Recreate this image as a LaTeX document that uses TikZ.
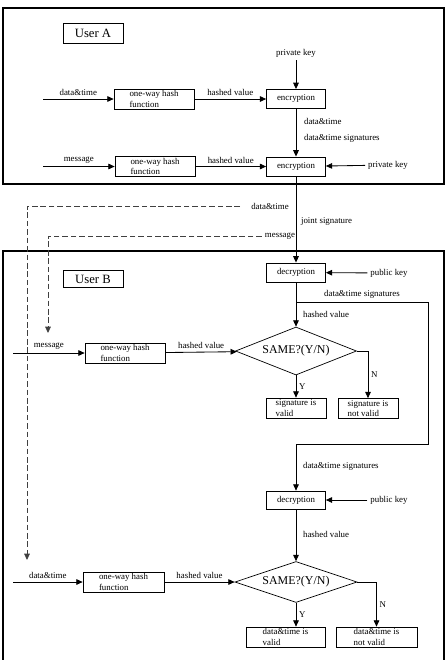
\documentclass[tikz,border=0pt]{standalone}
\usepackage{fontspec}
\setmainfont{Liberation Serif}
\usetikzlibrary{shapes.geometric,arrows.meta}

\newcommand{\smalltxt}{\fontsize{6.3}{7.4}\selectfont}

\tikzset{
	frame/.style={draw, line width=1.2pt},
	userbox/.style={draw, line width=0.5pt, minimum width=1.5cm, minimum height=0.5cm, inner sep=0pt, font=\fontsize{9}{10}\selectfont},
	hashbox/.style={draw, line width=0.5pt, minimum width=2cm, minimum height=0.5cm, inner sep=0pt, align=left, font=\smalltxt},
	cryptbox/.style={draw, line width=0.5pt, minimum width=1.475cm, minimum height=0.48cm, inner sep=0pt, font=\smalltxt},
	resbox/.style={draw, line width=0.5pt, minimum width=1.5cm, minimum height=0.5cm, inner sep=0pt, align=left, font=\smalltxt},
	same/.style={draw, shape=diamond, line width=0.5pt, aspect=2.5, inner sep=0pt, minimum width=3.025cm, minimum height=1.2cm, font=\fontsize{8.5}{10}\selectfont},
	lbl/.style={font=\smalltxt, inner sep=2pt},
	arr/.style={-{Triangle[length=4.5pt,width=4pt]}, line width=0.6pt},
	dashline/.style={arr, dash pattern=on 4pt off 2pt, color=black!75}
}

\begin{document}
\begin{tikzpicture}[x=0.025cm, y=-0.025cm]
	\useasboundingbox (0,0) rectangle (448,660);

	% the two users
	\draw[frame] (3,8) rectangle (444,184);
	\draw[frame] (3,660) -- (3,251) -- (444,251) -- (444,660);

	% User A
	\node[userbox] (userA) at (93,33) {User A};
	\node[hashbox] (hashA1) at (154,99) {one-way hash\\function};
	\node[cryptbox] (encA1) at (296,99) {encryption};
	\node[hashbox] (hashA2) at (155,166.5) {one-way hash\\function};
	\node[cryptbox] (encA2) at (296,166.5) {encryption};
	\node[lbl] (privA1) at (296,53) {private key};
	\node[lbl] (privA2) at (388,165) {private key};
	\node[lbl, anchor=west] (dtA) at (301,121) {data\&time};
	\node[lbl, anchor=west] (dtsigA) at (301,138) {data\&time signatures};
	\coordinate (inA1) at (43,99);
	\coordinate (inA2) at (43,166.5);

	\draw[arr] (inA1) -- node[lbl, above] {data\&time} (hashA1);
	\draw[arr] (hashA1) -- node[lbl, above] {hashed value} (encA1);
	\draw[arr] (privA1) -- (encA1);
	\draw[arr] (encA1) -- (encA2);
	\draw[arr] (inA2) -- node[lbl, above] {message} (hashA2);
	\draw[arr] (hashA2) -- node[lbl, above] {hashed value} (encA2);
	\draw[arr] (privA2) -- (encA2);

	% between the users
	\node[lbl] (dtB) at (270,206) {data\&time};
	\node[lbl] (msgB) at (280,236) {message};
	\node[lbl, anchor=west] (joint) at (298,222) {joint signature};
	\coordinate (dtstart) at (240,206);
	\coordinate (dtend) at (27,560);
	\coordinate (msgend) at (48,333);
	\draw[dashline] (dtstart) -| (dtend);
	\draw[dashline] (msgB.west) -| (msgend);

	% User B
	\node[userbox, minimum height=0.43cm] (userB) at (93,279) {User B};
	\node[cryptbox] (decB1) at (296,272.5) {decryption};
	\node[lbl] (pubB1) at (389,273) {public key};
	\coordinate (split) at (296,302);
	\coordinate (turn) at (428,444);
	\node[lbl, anchor=west] (hvB1) at (300,314) {hashed value};
	\node[same] (same1) at (296,351) {SAME?(Y/N)};
	\node[hashbox] (hashB1) at (125,353) {one-way hash\\function};
	\coordinate (inB1) at (13,353);
	\node[resbox] (okB1) at (296,408) {signature is\\valid};
	\node[resbox] (badB1) at (368,408.5) {signature is\\not valid};

	\draw[arr] (encA2) -- (decB1);
	\draw[arr] (pubB1) -- (decB1);
	\draw[arr] (decB1) -- (same1);
	\draw[arr] (inB1) -- node[lbl, above] {message} (hashB1);
	\draw[arr] (hashB1) -- node[lbl, above] {hashed value} (same1);
	\draw[arr] (same1) -- node[lbl, right] {Y} (okB1);
	\draw[arr] (same1.east) -| node[lbl, right, pos=0.75] {N} (badB1);

	\node[lbl, anchor=west] (dtsigB) at (300,466) {data\&time signatures};
	\node[cryptbox, minimum height=0.45cm] (decB2) at (296,500) {decryption};
	\node[lbl] (pubB2) at (389,500) {public key};
	\node[lbl, anchor=west] (hvB2) at (300,534) {hashed value};
	\node[same, minimum width=3.05cm, minimum height=1.025cm] (same2) at (296,582) {SAME?(Y/N)};
	\node[hashbox, minimum width=2.025cm] (hashB2) at (123.5,582) {one-way hash\\function};
	\coordinate (inB2) at (13,582);
	\node[resbox, minimum width=1.975cm] (okB2) at (285.5,637) {data\&time is\\valid};
	\node[resbox, minimum width=2.025cm] (badB2) at (376.5,637) {data\&time is\\not valid};

	\draw[arr] (split) -| node[lbl, above, pos=0.25] {data\&time signatures} (turn) -| (decB2);
	\draw[arr] (pubB2) -- (decB2);
	\draw[arr] (decB2) -- (same2);
	\draw[arr] (inB2) -- node[lbl, above] {data\&time} (hashB2);
	\draw[arr] (hashB2) -- node[lbl, above] {hashed value} (same2);
	\draw[arr] (same2) -- node[lbl, right] {Y} (same2 |- okB2.north);
	\draw[arr] (same2.east) -| node[lbl, right, pos=0.75] {N} (badB2);
\end{tikzpicture}
\end{document}
